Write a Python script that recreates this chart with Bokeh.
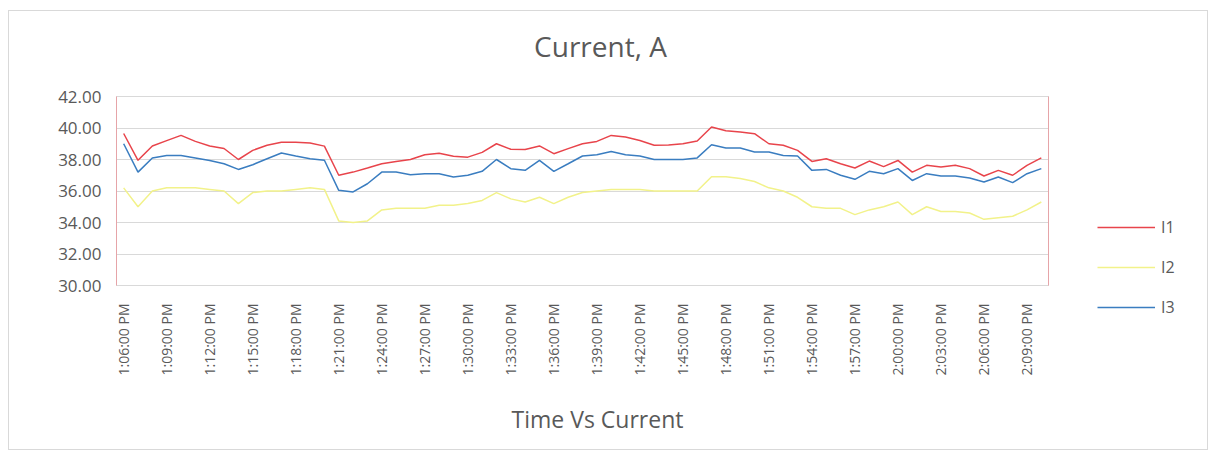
import math
from bokeh.plotting import figure
from bokeh.layouts import row
from bokeh.models import Range1d, FixedTicker, LinearAxis, Legend, LegendItem, NumeralTickFormatter, Label
from bokeh.embed import file_html
from bokeh.resources import INLINE

times = [
    "1:06:00 PM", "1:07:00 PM", "1:08:00 PM", "1:09:00 PM", "1:10:00 PM", "1:11:00 PM", "1:12:00 PM",
    "1:13:00 PM", "1:14:00 PM", "1:15:00 PM", "1:16:00 PM", "1:17:00 PM", "1:18:00 PM", "1:19:00 PM",
    "1:20:00 PM", "1:21:00 PM", "1:22:00 PM", "1:23:00 PM", "1:24:00 PM", "1:25:00 PM", "1:26:00 PM",
    "1:27:00 PM", "1:28:00 PM", "1:29:00 PM", "1:30:00 PM", "1:31:00 PM", "1:32:00 PM", "1:33:00 PM",
    "1:34:00 PM", "1:35:00 PM", "1:36:00 PM", "1:37:00 PM", "1:38:00 PM", "1:39:00 PM", "1:40:00 PM",
    "1:41:00 PM", "1:42:00 PM", "1:43:00 PM", "1:44:00 PM", "1:45:00 PM", "1:46:00 PM", "1:47:00 PM",
    "1:48:00 PM", "1:49:00 PM", "1:50:00 PM", "1:51:00 PM", "1:52:00 PM", "1:53:00 PM", "1:54:00 PM",
    "1:55:00 PM", "1:56:00 PM", "1:57:00 PM", "1:58:00 PM", "1:59:00 PM", "2:00:00 PM", "2:01:00 PM",
    "2:02:00 PM", "2:03:00 PM", "2:04:00 PM", "2:05:00 PM", "2:06:00 PM", "2:07:00 PM", "2:08:00 PM",
    "2:09:00 PM", "2:10:00 PM",
]

i1 = [39.65, 37.95, 38.86, 39.20, 39.53, 39.15, 38.86, 38.70, 38.00, 38.58,
      38.90, 39.10, 39.10, 39.05, 38.85, 37.00, 37.20, 37.46, 37.73, 37.88,
      38.00, 38.30, 38.40, 38.20, 38.15, 38.45, 39.00, 38.65, 38.64, 38.86,
      38.37, 38.69, 39.00, 39.15, 39.53, 39.43, 39.21, 38.90, 38.92, 39.00,
      39.18, 40.06, 39.83, 39.75, 39.64, 39.00, 38.90, 38.58, 37.88, 38.05,
      37.73, 37.46, 37.90, 37.55, 37.94, 37.20, 37.63, 37.52, 37.63, 37.42,
      36.95, 37.31, 37.00, 37.63, 38.10]

i2 = [36.20, 35.00, 36.00, 36.20, 36.20, 36.20, 36.10, 36.00, 35.20, 35.90,
      36.00, 36.00, 36.10, 36.20, 36.10, 34.10, 34.00, 34.10, 34.80, 34.90,
      34.90, 34.90, 35.10, 35.10, 35.20, 35.40, 35.90, 35.50, 35.30, 35.60,
      35.20, 35.60, 35.90, 36.00, 36.10, 36.10, 36.10, 36.00, 36.00, 36.00,
      36.00, 36.90, 36.90, 36.80, 36.60, 36.20, 36.00, 35.60, 35.00, 34.90,
      34.90, 34.50, 34.80, 35.00, 35.30, 34.50, 35.00, 34.70, 34.70, 34.60,
      34.20, 34.30, 34.40, 34.80, 35.30]

i3 = [39.00, 37.20, 38.10, 38.26, 38.26, 38.10, 37.94, 37.73, 37.37, 37.67,
      38.05, 38.41, 38.22, 38.05, 37.95, 36.04, 35.94, 36.46, 37.20, 37.20,
      37.03, 37.10, 37.10, 36.89, 37.00, 37.25, 38.00, 37.42, 37.31, 37.94,
      37.25, 37.73, 38.22, 38.30, 38.51, 38.30, 38.22, 38.00, 38.00, 38.00,
      38.10, 38.94, 38.73, 38.73, 38.48, 38.48, 38.26, 38.22, 37.31, 37.37,
      37.00, 36.74, 37.25, 37.10, 37.42, 36.67, 37.10, 36.95, 36.95, 36.83,
      36.57, 36.89, 36.53, 37.10, 37.42]

series_names = ["I1", "I2", "I3"]
series_colors = ["#E8444B", "#F2F28A", "#3A7DC0"]

chart_title = "Current, A"
x_title = "Time Vs Current"

y_ticks = [30, 32, 34, 36, 38, 40, 42]
label_step = 3

x = list(range(len(times)))

FONT = "Open Sans"
GREY = "#595959"
W, H = 1198, 438

p = figure(width=W, height=H, output_backend="svg", toolbar_location=None,
           x_range=Range1d(-0.5, len(times) - 0.5), y_range=Range1d(30, 42),
           min_border_left=107, min_border_right=159, min_border_top=85, min_border_bottom=164,
           background_fill_color="white", border_fill_color="white")
p.title.visible = False

p.outline_line_color = "#D9D9D9"
p.xgrid.grid_line_color = None
p.ygrid.grid_line_color = "#D9D9D9"
p.ygrid.grid_line_width = 1

p.yaxis.ticker = FixedTicker(ticks=y_ticks)
p.yaxis.formatter = NumeralTickFormatter(format="0.00")
p.yaxis.major_tick_line_color = None
p.yaxis.minor_tick_line_color = None
p.yaxis.axis_line_color = "#E6A4A8"
p.yaxis.major_label_text_font = FONT
p.yaxis.major_label_text_font_size = "17px"
p.yaxis.major_label_text_color = GREY
p.yaxis.major_label_standoff = 9

p.xaxis.ticker = FixedTicker(ticks=x[::label_step])
p.xaxis.major_label_overrides = {i: times[i] for i in x[::label_step]}
p.xaxis.major_label_orientation = math.pi / 2
p.xaxis.major_tick_line_color = None
p.xaxis.minor_tick_line_color = None
p.xaxis.axis_line_color = "#D9D9D9"
p.xaxis.major_label_text_font = FONT
p.xaxis.major_label_text_font_size = "14px"
p.xaxis.major_label_text_color = GREY
p.xaxis.major_label_standoff = 12

# pink right edge of the plot area
right_axis = LinearAxis(ticker=FixedTicker(ticks=[]), axis_line_color="#E6A4A8",
                        major_tick_line_color=None, minor_tick_line_color=None,
                        major_label_text_font_size="0px")
p.add_layout(right_axis, "right")

for vals, color in zip([i1, i2, i3], series_colors):
    p.line(x, vals, line_color=color, line_width=1.5)

# legend: a small transparent figure laid over the right part of the chart
lg = figure(frame_width=123, frame_height=H, output_backend="svg", toolbar_location=None,
            x_axis_type=None, y_axis_type=None,
            x_range=Range1d(-20, -10), y_range=Range1d(0, 1), min_border=0,
            background_fill_alpha=0, border_fill_alpha=0)
lg.title.visible = False
lg.outline_line_color = None
lg.grid.visible = False
items = []
for name, vals, color in zip(series_names, [i1, i2, i3], series_colors):
    r = lg.line(x, vals, line_color=color, line_width=1.5)
    items.append(LegendItem(label=name, renderers=[r]))
legend = Legend(items=items, location=(13, 131), orientation="vertical",
                glyph_width=58, glyph_height=20, label_height=20, spacing=18,
                padding=0, margin=0, border_line_color=None, background_fill_alpha=0,
                label_text_font=FONT, label_text_font_size="16px", label_text_color=GREY,
                label_standoff=6)
lg.add_layout(legend)
lg.styles = {"position": "absolute", "left": "1084px", "top": "11px"}

# chart title and axis title: transparent overlay in pixel units
tx = figure(frame_width=W, frame_height=H, output_backend="svg", toolbar_location=None,
            x_axis_type=None, y_axis_type=None,
            x_range=Range1d(0, W), y_range=Range1d(0, H), min_border=0,
            background_fill_alpha=0, border_fill_alpha=0)
tx.title.visible = False
tx.outline_line_color = None
tx.grid.visible = False
tx.add_layout(Label(x=591, y=H - 34, text=chart_title, text_align="center", text_baseline="middle",
                    text_font=FONT, text_font_size="28px", text_color=GREY))
tx.add_layout(Label(x=588, y=H - 407, text=x_title, text_align="center", text_baseline="middle",
                    text_font=FONT, text_font_size="23px", text_color=GREY))
tx.styles = {"position": "absolute", "left": "9px", "top": "11px"}

layout = row(p, spacing=0)
layout.styles = {"border": "1px solid #d9d9d9", "margin-left": "8px", "margin-top": "10px"}

open("out.html", "w").write(file_html([layout, lg, tx], INLINE))
